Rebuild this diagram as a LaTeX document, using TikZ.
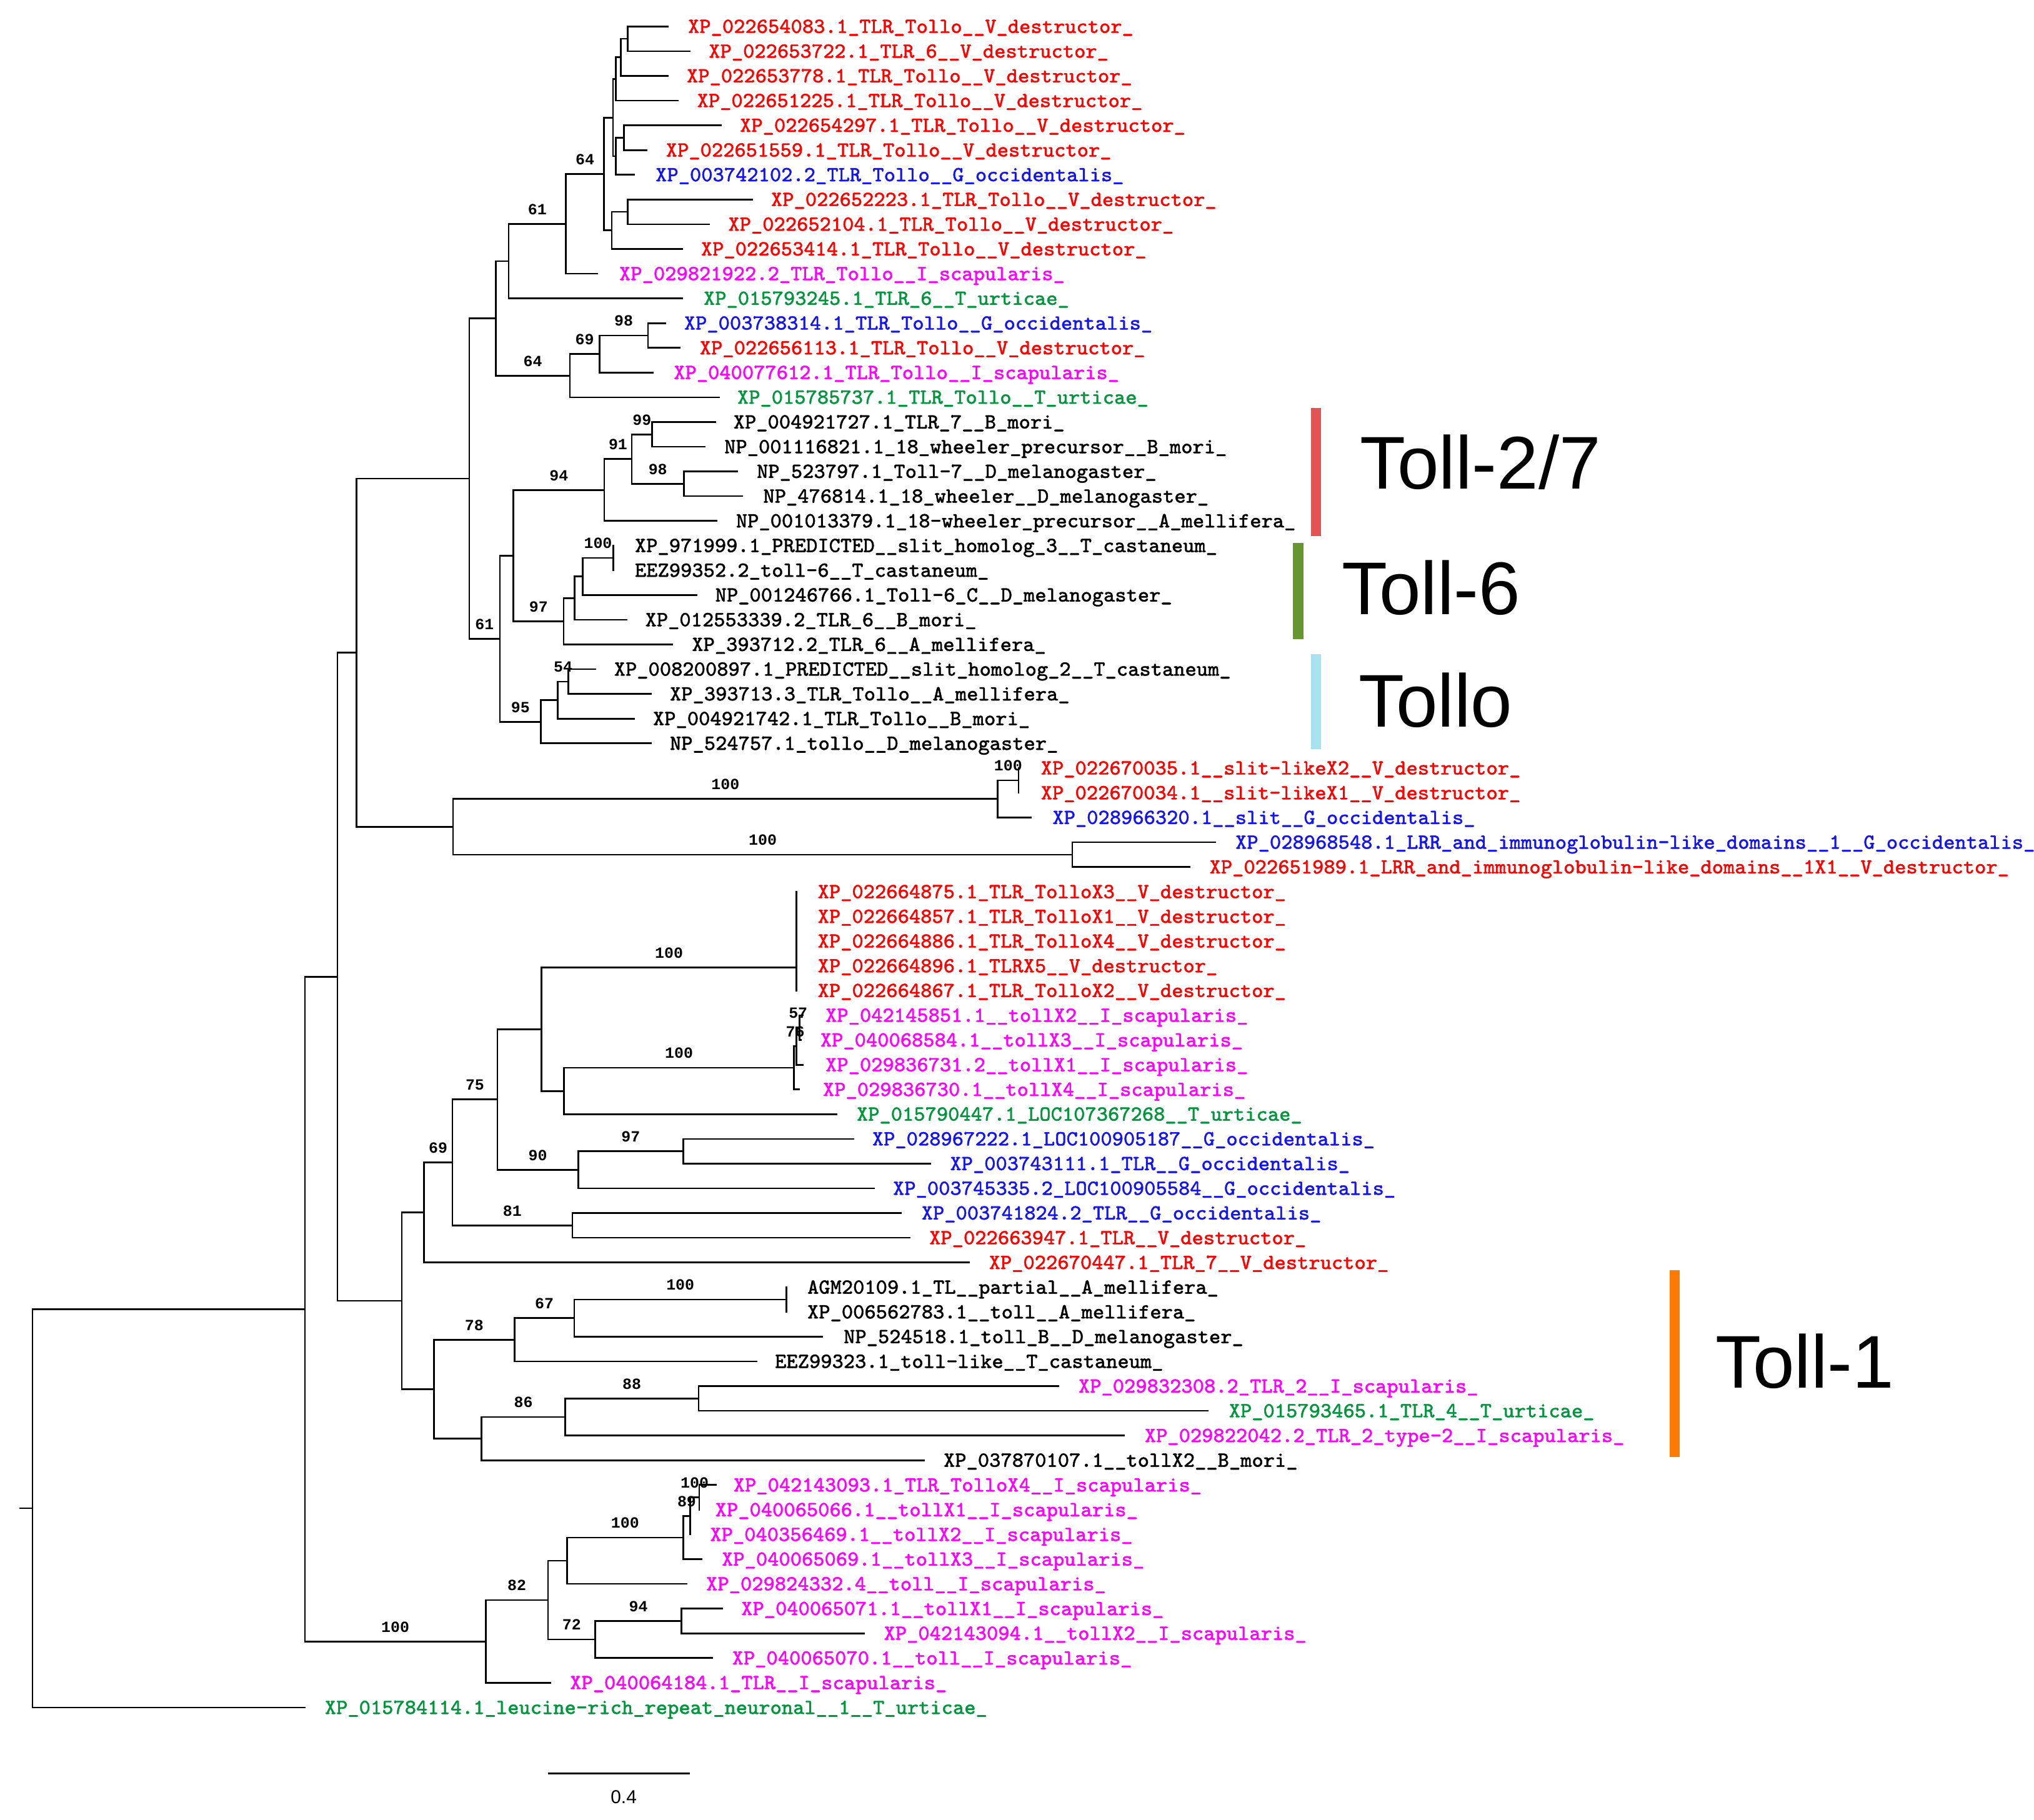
\documentclass[tikz,border=0pt]{standalone}
\usepackage{fontspec}
\setmainfont{Liberation Serif}
\newfontfamily\monof{Liberation Mono}
\newfontfamily\leaff[FakeBold=1.2]{Latin Modern Mono}
\newfontfamily\sansf{Liberation Sans}
\usetikzlibrary{calc}
\definecolor{tred}{RGB}{255,0,0}
\definecolor{tblue}{RGB}{20,20,240}
\definecolor{tmag}{RGB}{255,0,255}
\definecolor{tgreen}{RGB}{0,150,60}
\definecolor{tblack}{RGB}{0,0,0}
\definecolor{barred}{RGB}{226,84,84}
\definecolor{bargreen}{RGB}{102,150,48}
\definecolor{barblue}{RGB}{168,226,240}
\definecolor{barorange}{RGB}{255,122,0}
\newcommand\tleaf[6]{%
  \coordinate (e#1) at (#3,#1);
  \node[leaflab,text=#2] (l#1) at (#4,#1) {#6};
  \draw[br] (#5) |- (e#1);
}
\newcommand\bsl[3]{\node[bs] (b#2) at ($(#1 |- #2)!0.5!(#2)$) {#3};}
\begin{document}
\begin{tikzpicture}[x=0.5pt,y=0.5pt,
  br/.style={line width=0.65pt,line cap=rect},
  leaflab/.style={anchor=base west,inner sep=0pt,yshift=-2.5pt,font=\leaff\fontsize{8.29pt}{9pt}\selectfont},
  bs/.style={anchor=base,inner sep=0pt,yshift=3.65pt,font=\monof\bfseries\fontsize{6pt}{7pt}\selectfont},
  tl/.style={anchor=base west,inner sep=0pt,font=\sansf\fontsize{28.8pt}{30pt}\selectfont}]
\useasboundingbox (0,0) rectangle (1568,-1403);
\begin{scope}[y=-9.53pt,yshift=-0.67pt]
% internal nodes
\coordinate (r0) at (15.4,60.9425);
\coordinate (nR) at (25,60.9425);
\coordinate (nJ) at (235.1,52.8845);
\coordinate (nH) at (260.1,39.441);
\coordinate (nF) at (274.9,26.331);
\coordinate (nE) at (361.7,19.2875);
\coordinate (nD) at (382.2,12.8085);
\coordinate (nC) at (392.1,10.492);
\coordinate (nSixOneA) at (436.3,8.984);
\coordinate (nSixFourA) at (465.6,6.96875);
\coordinate (tf) at (472.5,4.6875);
\coordinate (tc) at (474.7,3.125);
\coordinate (tb) at (478.5,2.25);
\coordinate (ta) at (484.0,1.5);
\coordinate (te) at (474.7,6.25);
\coordinate (td) at (481.1,5.5);
\coordinate (th) at (471.6,9.25);
\coordinate (tg) at (484.0,8.5);
\coordinate (nSixFourB) at (439.3,15.125);
\coordinate (nSixNine) at (462.1,14.25);
\coordinate (nNineEight) at (499.5,13.5);
\coordinate (nSixOneB) at (385.3,25.766);
\coordinate (nM) at (395.8,22.406);
\coordinate (nNineFour) at (465.8,19.75);
\coordinate (nNineOne) at (487.0,18.5);
\coordinate (nNineNine) at (502.7,17.5);
\coordinate (nNineEightB) at (527.2,19.5);
\coordinate (nNineSeven) at (434.5,25.0625);
\coordinate (nN) at (442.8,24.125);
\coordinate (nO) at (449.3,23.25);
\coordinate (nHundC) at (472.7,22.5);
\coordinate (nNineFive) at (417.0,29.125);
\coordinate (nP) at (429.9,28.25);
\coordinate (nFiveFour) at (438.2,27.5);
\coordinate (nG) at (349.3,33.375);
\coordinate (nQ) at (769.1,32.25);
\coordinate (nHundS) at (785.2,31.5);
\coordinate (nS) at (826.6,34.5);
\coordinate (nI) at (309.8,52.551);
\coordinate (nK) at (326.8,48.977);
\coordinate (nSixNineB) at (348.7,46.953);
\coordinate (nSevenFive) at (383.5,44.406);
\coordinate (nT) at (417.5,41.5625);
\coordinate (nHundA) at (614.0,39.0625);
\coordinate (nFourThree) at (434.9,44.0625);
\coordinate (nU) at (612.0,43.125);
\coordinate (nSevenSix) at (614.0,42.25);
\coordinate (nFiveSeven) at (616.5,41.5);
\coordinate (nNinety) at (445.7,47.25);
\coordinate (nNineSevenB) at (526.8,46.5);
\coordinate (nEightOne) at (441.2,49.5);
\coordinate (nL) at (334.5,56.125);
\coordinate (nSevenEight) at (396.6,54.125);
\coordinate (nSixSeven) at (442.7,53.25);
\coordinate (nHundD) at (606.2,52.5);
\coordinate (nY) at (371.2,58.125);
\coordinate (nEightSix) at (435.7,57.25);
\coordinate (nEightEight) at (538.5,56.5);
\coordinate (nW) at (374.4,66.328);
\coordinate (nEightTwo) at (422.4,64.656);
\coordinate (nX) at (437.0,63.0625);
\coordinate (nHundF) at (526.8,62.125);
\coordinate (nEightNine) at (532.0,61.25);
\coordinate (nHundE) at (539.0,60.5);
\coordinate (nSevenTwo) at (458.9,66.25);
\coordinate (nNineFourB) at (525.3,65.5);
% internal branches
\draw[br] (r0) -- (nR);
\draw[br] (nR) |- (nJ);
\draw[br] (nJ) |- (nH); \draw[br] (nJ) |- (nW);
\draw[br] (nH) |- (nF); \draw[br] (nH) |- (nI);
\draw[br] (nF) |- (nE); \draw[br] (nF) |- (nG);
\draw[br] (nE) |- (nD); \draw[br] (nE) |- (nSixOneB);
\draw[br] (nD) |- (nC); \draw[br] (nD) |- (nSixFourB);
\draw[br] (nC) |- (nSixOneA);
\draw[br] (nSixOneA) |- (nSixFourA);
\draw[br] (nSixFourA) |- (tf); \draw[br] (nSixFourA) |- (th);
\draw[br] (tf) |- (tc); \draw[br] (tf) |- (te);
\draw[br] (tc) |- (tb);
\draw[br] (tb) |- (ta);
\draw[br] (te) |- (td);
\draw[br] (th) |- (tg);
\draw[br] (nSixFourB) |- (nSixNine);
\draw[br] (nSixNine) |- (nNineEight);
\draw[br] (nSixOneB) |- (nM); \draw[br] (nSixOneB) |- (nNineFive);
\draw[br] (nM) |- (nNineFour); \draw[br] (nM) |- (nNineSeven);
\draw[br] (nNineFour) |- (nNineOne);
\draw[br] (nNineOne) |- (nNineNine); \draw[br] (nNineOne) |- (nNineEightB);
\draw[br] (nNineSeven) |- (nN);
\draw[br] (nN) |- (nO);
\draw[br] (nO) |- (nHundC);
\draw[br] (nNineFive) |- (nP);
\draw[br] (nP) |- (nFiveFour);
\draw[br] (nG) |- (nQ); \draw[br] (nG) |- (nS);
\draw[br] (nQ) |- (nHundS);
\draw[br] (nI) |- (nK); \draw[br] (nI) |- (nL);
\draw[br] (nK) |- (nSixNineB);
\draw[br] (nSixNineB) |- (nSevenFive); \draw[br] (nSixNineB) |- (nEightOne);
\draw[br] (nSevenFive) |- (nT); \draw[br] (nSevenFive) |- (nNinety);
\draw[br] (nT) |- (nHundA); \draw[br] (nT) |- (nFourThree);
\draw[br] (nFourThree) |- (nU);
\draw[br] (nU) |- (nSevenSix);
\draw[br] (nSevenSix) |- (nFiveSeven);
\draw[br] (nNinety) |- (nNineSevenB);
\draw[br] (nL) |- (nSevenEight); \draw[br] (nL) |- (nY);
\draw[br] (nSevenEight) |- (nSixSeven);
\draw[br] (nSixSeven) |- (nHundD);
\draw[br] (nY) |- (nEightSix);
\draw[br] (nEightSix) |- (nEightEight);
\draw[br] (nW) |- (nEightTwo);
\draw[br] (nEightTwo) |- (nX); \draw[br] (nEightTwo) |- (nSevenTwo);
\draw[br] (nX) |- (nHundF);
\draw[br] (nHundF) |- (nEightNine);
\draw[br] (nEightNine) |- (nHundE);
\draw[br] (nSevenTwo) |- (nNineFourB);
% leaves
\tleaf{1}{tred}{514.6}{530}{ta}{XP\_022654083.1\_TLR\_Tollo\_\_V\_destructor\_}
\tleaf{2}{tred}{531.8}{546}{ta}{XP\_022653722.1\_TLR\_6\_\_V\_destructor\_}
\tleaf{3}{tred}{514.6}{529}{tb}{XP\_022653778.1\_TLR\_Tollo\_\_V\_destructor\_}
\tleaf{4}{tred}{522.3}{537}{tc}{XP\_022651225.1\_TLR\_Tollo\_\_V\_destructor\_}
\tleaf{5}{tred}{555.9}{570}{td}{XP\_022654297.1\_TLR\_Tollo\_\_V\_destructor\_}
\tleaf{6}{tred}{498.3}{513}{td}{XP\_022651559.1\_TLR\_Tollo\_\_V\_destructor\_}
\tleaf{7}{tblue}{488.8}{505}{te}{XP\_003742102.2\_TLR\_Tollo\_\_G\_occidentalis\_}
\tleaf{8}{tred}{580}{594}{tg}{XP\_022652223.1\_TLR\_Tollo\_\_V\_destructor\_}
\tleaf{9}{tred}{546.4}{561}{tg}{XP\_022652104.1\_TLR\_Tollo\_\_V\_destructor\_}
\tleaf{10}{tred}{525.8}{540}{th}{XP\_022653414.1\_TLR\_Tollo\_\_V\_destructor\_}
\tleaf{11}{tmag}{460.4}{477}{nSixOneA}{XP\_029821922.2\_TLR\_Tollo\_\_I\_scapularis\_}
\tleaf{12}{tgreen}{525.8}{542}{nC}{XP\_015793245.1\_TLR\_6\_\_T\_urticae\_}
\tleaf{13}{tblue}{512.9}{527}{nNineEight}{XP\_003738314.1\_TLR\_Tollo\_\_G\_occidentalis\_}
\tleaf{14}{tred}{524.1}{539}{nNineEight}{XP\_022656113.1\_TLR\_Tollo\_\_V\_destructor\_}
\tleaf{15}{tmag}{503.4}{519}{nSixNine}{XP\_040077612.1\_TLR\_Tollo\_\_I\_scapularis\_}
\tleaf{16}{tgreen}{554.2}{568}{nSixFourB}{XP\_015785737.1\_TLR\_Tollo\_\_T\_urticae\_}
\tleaf{17}{tblack}{551.2}{565}{nNineNine}{XP\_004921727.1\_TLR\_7\_\_B\_mori\_}
\tleaf{18}{tblack}{543.3}{558}{nNineNine}{NP\_001116821.1\_18\_wheeler\_precursor\_\_B\_mori\_}
\tleaf{19}{tblack}{568.1}{583}{nNineEightB}{NP\_523797.1\_Toll-7\_\_D\_melanogaster\_}
\tleaf{20}{tblack}{572.2}{588}{nNineEightB}{NP\_476814.1\_18\_wheeler\_\_D\_melanogaster\_}
\tleaf{21}{tblack}{552.5}{567}{nNineFour}{NP\_001013379.1\_18-wheeler\_precursor\_\_A\_mellifera\_}
\tleaf{22}{tblack}{472.7}{489}{nHundC}{XP\_971999.1\_PREDICTED\_\_slit\_homolog\_3\_\_T\_castaneum\_}
\tleaf{23}{tblack}{472.7}{489}{nHundC}{EEZ99352.2\_toll-6\_\_T\_castaneum\_}
\tleaf{24}{tblack}{536.8}{551}{nO}{NP\_001246766.1\_Toll-6\_C\_\_D\_melanogaster\_}
\tleaf{25}{tblack}{483.0}{497}{nN}{XP\_012553339.2\_TLR\_6\_\_B\_mori\_}
\tleaf{26}{tblack}{518.0}{533}{nNineSeven}{XP\_393712.2\_TLR\_6\_\_A\_mellifera\_}
\tleaf{27}{tblack}{459.0}{473}{nFiveFour}{XP\_008200897.1\_PREDICTED\_\_slit\_homolog\_2\_\_T\_castaneum\_}
\tleaf{28}{tblack}{501.8}{516}{nFiveFour}{XP\_393713.3\_TLR\_Tollo\_\_A\_mellifera\_}
\tleaf{29}{tblack}{488.9}{503}{nP}{XP\_004921742.1\_TLR\_Tollo\_\_B\_mori\_}
\tleaf{30}{tblack}{501.8}{516}{nNineFive}{NP\_524757.1\_tollo\_\_D\_melanogaster\_}
\tleaf{31}{tred}{785.2}{802}{nHundS}{XP\_022670035.1\_\_slit-likeX2\_\_V\_destructor\_}
\tleaf{32}{tred}{785.2}{802}{nHundS}{XP\_022670034.1\_\_slit-likeX1\_\_V\_destructor\_}
\tleaf{33}{tblue}{794.8}{811}{nQ}{XP\_028966320.1\_\_slit\_\_G\_occidentalis\_}
\tleaf{34}{tblue}{937}{952}{nS}{XP\_028968548.1\_LRR\_and\_immunoglobulin-like\_domains\_\_1\_\_G\_occidentalis\_}
\tleaf{35}{tred}{917}{932}{nS}{XP\_022651989.1\_LRR\_and\_immunoglobulin-like\_domains\_\_1X1\_\_V\_destructor\_}
\tleaf{36}{tred}{614}{630}{nHundA}{XP\_022664875.1\_TLR\_TolloX3\_\_V\_destructor\_}
\tleaf{37}{tred}{614}{630}{nHundA}{XP\_022664857.1\_TLR\_TolloX1\_\_V\_destructor\_}
\tleaf{38}{tred}{614}{630}{nHundA}{XP\_022664886.1\_TLR\_TolloX4\_\_V\_destructor\_}
\tleaf{39}{tred}{614}{630}{nHundA}{XP\_022664896.1\_TLRX5\_\_V\_destructor\_}
\tleaf{40}{tred}{614}{630}{nHundA}{XP\_022664867.1\_TLR\_TolloX2\_\_V\_destructor\_}
\tleaf{41}{tmag}{619}{636}{nFiveSeven}{XP\_042145851.1\_\_tollX2\_\_I\_scapularis\_}
\tleaf{42}{tmag}{617.5}{632}{nFiveSeven}{XP\_040068584.1\_\_tollX3\_\_I\_scapularis\_}
\tleaf{43}{tmag}{619}{636}{nSevenSix}{XP\_029836731.2\_\_tollX1\_\_I\_scapularis\_}
\tleaf{44}{tmag}{616}{634}{nU}{XP\_029836730.1\_\_tollX4\_\_I\_scapularis\_}
\tleaf{45}{tgreen}{644.7}{660}{nFourThree}{XP\_015790447.1\_LOC107367268\_\_T\_urticae\_}
\tleaf{46}{tblue}{657.8}{672}{nNineSevenB}{XP\_028967222.1\_LOC100905187\_\_G\_occidentalis\_}
\tleaf{47}{tblue}{717}{732}{nNineSevenB}{XP\_003743111.1\_TLR\_\_G\_occidentalis\_}
\tleaf{48}{tblue}{673.7}{688}{nNinety}{XP\_003745335.2\_LOC100905584\_\_G\_occidentalis\_}
\tleaf{49}{tblue}{694.6}{710}{nEightOne}{XP\_003741824.2\_TLR\_\_G\_occidentalis\_}
\tleaf{50}{tred}{701}{716}{nEightOne}{XP\_022663947.1\_TLR\_\_V\_destructor\_}
\tleaf{51}{tred}{747}{762}{nK}{XP\_022670447.1\_TLR\_7\_\_V\_destructor\_}
\tleaf{52}{tblack}{606.2}{622}{nHundD}{AGM20109.1\_TL\_\_partial\_\_A\_mellifera\_}
\tleaf{53}{tblack}{606.2}{622}{nHundD}{XP\_006562783.1\_\_toll\_\_A\_mellifera\_}
\tleaf{54}{tblack}{633.9}{650}{nSixSeven}{NP\_524518.1\_toll\_B\_\_D\_melanogaster\_}
\tleaf{55}{tblack}{583.2}{597}{nSevenEight}{EEZ99323.1\_toll-like\_\_T\_castaneum\_}
\tleaf{56}{tmag}{815.9}{831}{nEightEight}{XP\_029832308.2\_TLR\_2\_\_I\_scapularis\_}
\tleaf{57}{tgreen}{931.1}{947}{nEightEight}{XP\_015793465.1\_TLR\_4\_\_T\_urticae\_}
\tleaf{58}{tmag}{866.6}{882}{nEightSix}{XP\_029822042.2\_TLR\_2\_type-2\_\_I\_scapularis\_}
\tleaf{59}{tblack}{712.2}{727}{nY}{XP\_037870107.1\_\_tollX2\_\_B\_mori\_}
\tleaf{60}{tmag}{552}{565}{nHundE}{XP\_042143093.1\_TLR\_TolloX4\_\_I\_scapularis\_}
\tleaf{61}{tmag}{539}{551}{nHundE}{XP\_040065066.1\_\_tollX1\_\_I\_scapularis\_}
\tleaf{62}{tmag}{532}{547}{nEightNine}{XP\_040356469.1\_\_tollX2\_\_I\_scapularis\_}
\tleaf{63}{tmag}{541}{556}{nHundF}{XP\_040065069.1\_\_tollX3\_\_I\_scapularis\_}
\tleaf{64}{tmag}{529.2}{544}{nX}{XP\_029824332.4\_\_toll\_\_I\_scapularis\_}
\tleaf{65}{tmag}{556.8}{571}{nNineFourB}{XP\_040065071.1\_\_tollX1\_\_I\_scapularis\_}
\tleaf{66}{tmag}{666}{681}{nNineFourB}{XP\_042143094.1\_\_tollX2\_\_I\_scapularis\_}
\tleaf{67}{tmag}{549.1}{564}{nSevenTwo}{XP\_040065070.1\_\_toll\_\_I\_scapularis\_}
\tleaf{68}{tmag}{424.3}{439}{nW}{XP\_040064184.1\_TLR\_\_I\_scapularis\_}
\tleaf{69}{tgreen}{235}{250}{nR}{XP\_015784114.1\_leucine-rich\_repeat\_neuronal\_\_1\_\_T\_urticae\_}
% bootstrap values
\bsl{nSixOneA}{nSixFourA}{64}
\bsl{nC}{nSixOneA}{61}
\bsl{nSixNine}{nNineEight}{98}
\bsl{nSixFourB}{nSixNine}{69}
\bsl{nD}{nSixFourB}{64}
\bsl{nNineOne}{nNineNine}{99}
\bsl{nNineFour}{nNineOne}{91}
\bsl{nNineOne}{nNineEightB}{98}
\bsl{nM}{nNineFour}{94}
\bsl{nO}{nHundC}{100}
\bsl{nM}{nNineSeven}{97}
\bsl{nE}{nSixOneB}{61}
\bsl{nP}{nFiveFour}{54}
\bsl{nSixOneB}{nNineFive}{95}
\bsl{nQ}{nHundS}{100}
\bsl{nG}{nQ}{100}
\bsl{nG}{nS}{100}
\bsl{nT}{nHundA}{100}
\bsl{nFourThree}{nU}{100}
\bsl{nSevenSix}{nFiveSeven}{57}
\bsl{nU}{nSevenSix}{76}
\bsl{nSixNineB}{nSevenFive}{75}
\bsl{nK}{nSixNineB}{69}
\bsl{nNinety}{nNineSevenB}{97}
\bsl{nSevenFive}{nNinety}{90}
\bsl{nSixNineB}{nEightOne}{81}
\bsl{nSixSeven}{nHundD}{100}
\bsl{nSevenEight}{nSixSeven}{67}
\bsl{nL}{nSevenEight}{78}
\bsl{nEightSix}{nEightEight}{88}
\bsl{nY}{nEightSix}{86}
\bsl{nEightNine}{nHundE}{100}
\bsl{nHundF}{nEightNine}{89}
\bsl{nX}{nHundF}{100}
\bsl{nW}{nEightTwo}{82}
\bsl{nEightTwo}{nSevenTwo}{72}
\bsl{nSevenTwo}{nNineFourB}{94}
\bsl{nJ}{nW}{100}
\end{scope}
% clade bars and names
\fill[barred] (1010.7,-314.5) rectangle (1018.3,-413.4);
\fill[bargreen] (996.8,-418.8) rectangle (1004.7,-492.7);
\fill[barblue] (1010.7,-504.3) rectangle (1018.3,-577.4);
\fill[barorange] (1287,-979.1) rectangle (1294.7,-1123.2);
\node[tl] (c27) at (1048,-377) {Toll-2/7};
\node[tl] (c6) at (1034,-474) {Toll-6};
\node[tl] (cTo) at (1047,-560.5) {Tollo};
\node[tl] (c1) at (1322,-1070.2) {Toll-1};
% scale bar
\coordinate (sbA) at (422.4,-1367.4);
\coordinate (sbB) at (531.8,-1367.4);
\draw[line width=0.75pt] (sbA) -- (sbB);
\node[anchor=base,inner sep=0pt,font=\sansf\fontsize{7.2pt}{8pt}\selectfont] (sbl) at (480.8,-1390.6) {0.4};
\end{tikzpicture}
\end{document}
